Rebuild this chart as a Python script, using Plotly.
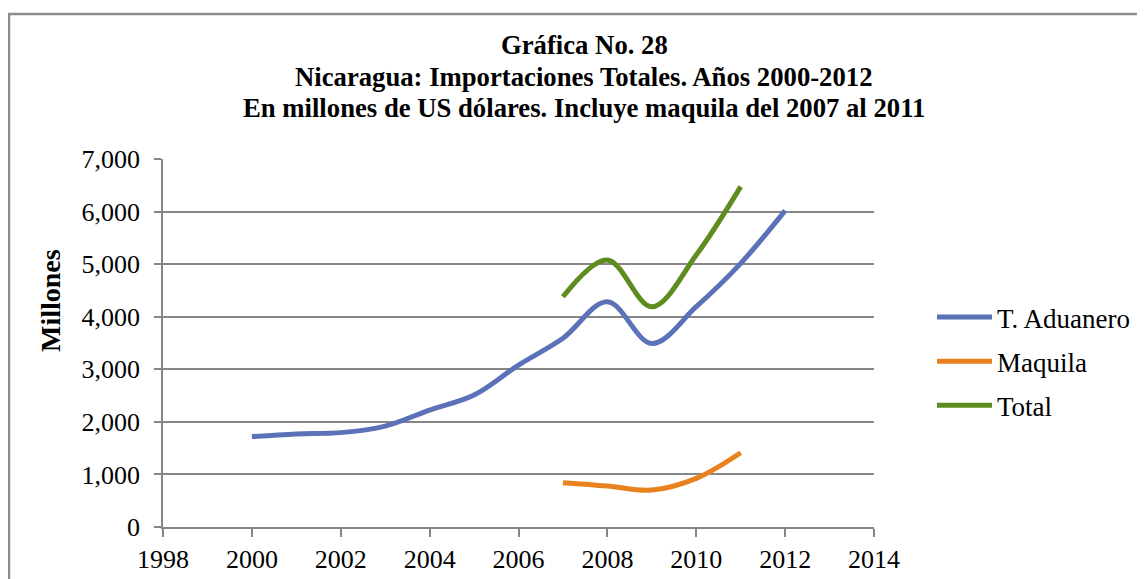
import plotly.graph_objects as go

years_aduanero = [2000, 2001, 2002, 2003, 2004, 2005, 2006, 2007, 2008, 2009, 2010, 2011, 2012]
t_aduanero = [1720, 1770, 1795, 1920, 2225, 2510, 3080, 3590, 4285, 3490, 4190, 5015, 6017]
years_maquila = [2007, 2008, 2009, 2010, 2011]
maquila = [843, 780, 703, 925, 1413]
total = [4380, 5080, 4190, 5175, 6475]

series_names = ["T. Aduanero", "Maquila", "Total"]
colors = ["#5B72B8", "#E8821E", "#5E8C1F"]

title_lines = [
    "Gráfica No. 28",
    "Nicaragua: Importaciones Totales. Años 2000-2012",
    "En millones de US dólares. Incluye maquila del 2007 al 2011",
]

FONT = "Liberation Serif, Times New Roman, serif"

fig = go.Figure()
for name, xs, ys, c in zip(series_names,
                           [years_aduanero, years_maquila, years_maquila],
                           [t_aduanero, maquila, total], colors):
    fig.add_trace(go.Scatter(
        x=xs, y=ys, name=name, mode="lines",
        line=dict(color=c, width=5, shape="spline", smoothing=1),
        legendgroup=name,
    ))

# The page body has an 8px margin; the figure is sized so it fills the window.
OFF = 8
W, H = 1145 - OFF, 579 - OFF
L, R, T, B = 163 - OFF, 271, 159 - OFF, 52
pw = W - L - R
ph = H - T - B

def px_x(px):
    return (px - OFF - L) / pw

def px_y(py):
    return (H - B - (py - OFF)) / ph

annotations = []
for line, yc in zip(title_lines, [45, 77, 108]):
    annotations.append(dict(
        text=f"<b>{line}</b>", x=px_x(584), y=px_y(yc), xref="paper", yref="paper",
        xanchor="center", yanchor="middle", showarrow=False,
        font=dict(family=FONT, size=26.7, color="black"),
    ))
annotations.append(dict(
    text="<b>Millones</b>", x=px_x(50), y=px_y(300), xref="paper", yref="paper",
    xanchor="center", yanchor="middle", showarrow=False, textangle=-90,
    font=dict(family=FONT, size=28, color="black"),
))

fig.update_layout(
    width=W, height=H,
    margin=dict(l=L, r=R, t=T, b=B, autoexpand=False),
    paper_bgcolor="white", plot_bgcolor="white",
    font=dict(family=FONT, size=26, color="black"),
    showlegend=True,
    legend=dict(
        x=px_x(932), y=px_y(293), xanchor="left", yanchor="top",
        font=dict(family=FONT, size=27, color="black"),
        itemwidth=55, tracegroupgap=6, traceorder="grouped",
        bgcolor="rgba(0,0,0,0)",
    ),
    annotations=annotations,
    shapes=[dict(
        type="rect", xref="paper", yref="paper",
        x0=px_x(9), x1=px_x(1170), y0=px_y(14), y1=px_y(620),
        line=dict(color="#8C8C8C", width=2.5), layer="below",
    )],
)

fig.update_xaxes(
    range=[1998, 2014], dtick=2, tick0=1998, showgrid=False,
    showline=True, linecolor="#868686", linewidth=1.5,
    ticks="outside", ticklen=8, tickcolor="#868686", tickwidth=1.5,
    tickfont=dict(family=FONT, size=26, color="black"),
    zeroline=False, fixedrange=True, automargin=False,
)
fig.update_yaxes(
    range=[0, 7000], dtick=1000, tickformat=",", showgrid=True,
    gridcolor="#868686", gridwidth=1.5,
    showline=True, linecolor="#868686", linewidth=1.5,
    ticks="outside", ticklen=7, tickcolor="#868686", tickwidth=1.5,
    ticklabelstandoff=9,
    tickfont=dict(family=FONT, size=26, color="black"),
    zeroline=False, fixedrange=True, automargin=False,
)

fig.write_html("out.html")
